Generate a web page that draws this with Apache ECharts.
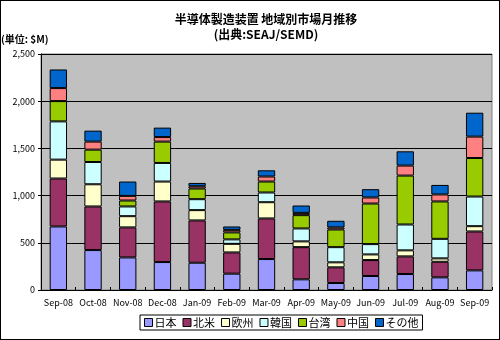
<!DOCTYPE html>
<html><head><meta charset="utf-8">
<script src="https://cdn.jsdelivr.net/npm/echarts@6/dist/echarts.min.js"></script>
<style>
html,body{margin:0;padding:0;background:#fff;}
#c{width:498px;height:338px;border:1px solid #000;}
</style></head>
<body><div id="c"></div>
<script>
const categories = ['Sep-08','Oct-08','Nov-08','Dec-08','Jan-09','Feb-09','Mar-09','Apr-09','May-09','Jun-09','Jul-09','Aug-09','Sep-09'];
const japan  = [673, 423, 345, 296, 289, 173, 328, 113, 74, 148, 169, 134, 208];
const namer  = [508, 462, 318, 642, 448, 225, 430, 341, 166, 169, 187, 165, 412];
const europe = [200, 235, 119, 211, 109, 91, 172, 61, 53, 60, 64, 36, 56];
const korea  = [405, 236, 103, 197, 116, 47, 103, 137, 161, 109, 274, 207, 314];
const taiwan = [215, 131, 63, 226, 113, 74, 116, 141, 187, 430, 518, 396, 408];
const china  = [138, 85, 49, 48, 24, 27, 53, 24, 22, 64, 106, 74, 227];
const other  = [197, 116, 152, 100, 35, 36, 66, 78, 70, 88, 151, 101, 253];
const seriesNames = ['日本','北米','欧州','韓国','台湾','中国','その他'];
const seriesData = [japan, namer, europe, korea, taiwan, china, other];
const colors = ['#9999FF','#993366','#FFFFCC','#CCFFFF','#99CC00','#FF8080','#0066CC'];
const yTicks = [0, 500, 1000, 1500, 2000, 2500];

const chart = echarts.init(document.getElementById('c'));
const ff = '"Noto Sans CJK JP", sans-serif';
chart.setOption({
  animation: false,
  textStyle: {fontFamily: ff},
  title: {
    text: '半導体製造装置 地域別市場月推移\n(出典:SEAJ/SEMD)',
    left: 260, top: 6, textAlign: 'center',
    textStyle: {fontSize: 12, fontWeight: 'bold', color: '#000', lineHeight: 15, fontFamily: ff}
  },
  graphic: [{type: 'text', left: 0, top: 33, style: {text: '(単位: $M)', font: 'bold 10px ' + ff, fill: '#000'}}],
  grid: {left: 40, right: 7, top: 53, bottom: 49, show: true, backgroundColor: '#C0C0C0', borderColor: '#808080', borderWidth: 1},
  legend: {
    bottom: 9, left: 139, itemWidth: 8, itemHeight: 8, itemGap: 6, icon: 'rect',
    borderColor: '#000', borderWidth: 1, padding: [2, 4],
    textStyle: {fontSize: 11, color: '#000', fontFamily: ff, padding: [0, 0, 0, -3]},
    data: seriesNames.map(n => ({name: n, itemStyle: {borderColor: '#000', borderWidth: 1}}))
  },
  xAxis: {
    type: 'category', data: categories,
    axisLine: {lineStyle: {color: '#000'}},
    axisTick: {show: true, lineStyle: {color: '#000'}, length: 3, inside: true},
    axisLabel: {fontSize: 9, color: '#000', margin: 8, interval: 0}
  },
  yAxis: {
    type: 'value', min: yTicks[0], max: yTicks[yTicks.length-1], interval: 500,
    axisLine: {show: true, lineStyle: {color: '#000'}},
    axisTick: {show: true, inside: false, length: 3, lineStyle: {color: '#000'}},
    splitLine: {lineStyle: {color: '#000', width: 1}},
    axisLabel: {fontSize: 9, color: '#000', margin: 6,
      formatter: v => v.toLocaleString('en-US')}
  },
  series: seriesData.map((d, i) => ({
    name: seriesNames[i], type: 'bar', stack: 'all', data: d, barWidth: '50%',
    itemStyle: {color: colors[i], borderColor: '#000', borderWidth: 1}
  }))
});
</script></body></html>
